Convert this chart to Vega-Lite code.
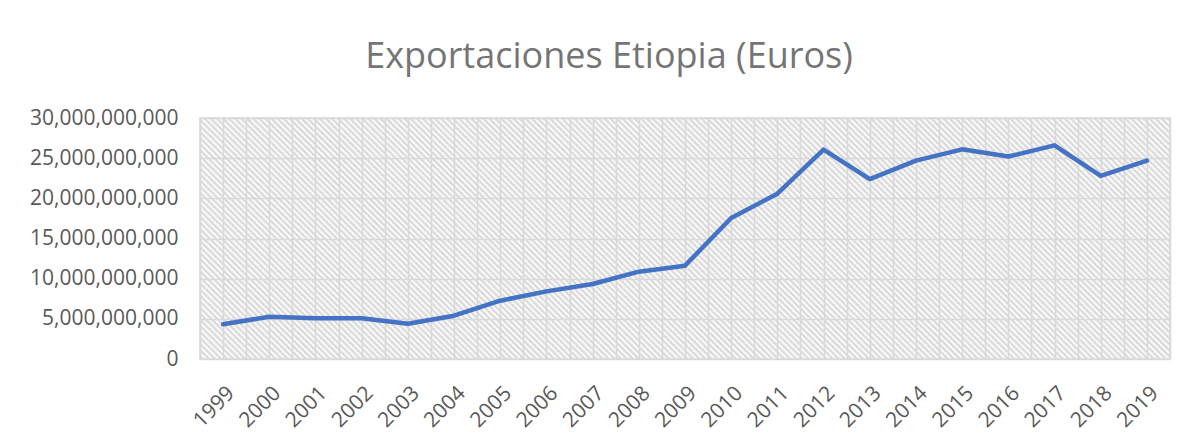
{
  "$schema": "https://vega.github.io/schema/vega-lite/v6.json",
  "width": 970,
  "height": 241,
  "autosize": {"type": "none"},
  "padding": {"left": 200, "top": 118, "right": 14, "bottom": 79},
  "background": "white",
  "title": {
    "text": "Exportaciones Etiopia (Euros)",
    "font": "Open Sans",
    "fontSize": 36,
    "fontWeight": "normal",
    "color": "#757575",
    "anchor": "middle",
    "baseline": "alphabetic",
    "dx": -76,
    "offset": 3
  },
  "config": {
    "view": {
      "stroke": "#d9d9d9",
      "strokeWidth": 1.5,
      "fill": {
        "gradient": "linear",
        "x1": 0, "y1": 1, "x2": 1.176, "y2": 0.7078,
        "stops": [
{"offset":0,"color":"#fff"},{"offset":0.0025,"color":"#d4d4d4"},{"offset":0.005,"color":"#fff"},{"offset":0.0075,"color":"#d4d4d4"},
{"offset":0.01,"color":"#fff"},{"offset":0.0125,"color":"#d4d4d4"},{"offset":0.015,"color":"#fff"},{"offset":0.0175,"color":"#d4d4d4"},
{"offset":0.02,"color":"#fff"},{"offset":0.0225,"color":"#d4d4d4"},{"offset":0.025,"color":"#fff"},{"offset":0.0275,"color":"#d4d4d4"},
{"offset":0.03,"color":"#fff"},{"offset":0.0325,"color":"#d4d4d4"},{"offset":0.035,"color":"#fff"},{"offset":0.0375,"color":"#d4d4d4"},
{"offset":0.04,"color":"#fff"},{"offset":0.0425,"color":"#d4d4d4"},{"offset":0.045,"color":"#fff"},{"offset":0.0475,"color":"#d4d4d4"},
{"offset":0.05,"color":"#fff"},{"offset":0.0525,"color":"#d4d4d4"},{"offset":0.055,"color":"#fff"},{"offset":0.0575,"color":"#d4d4d4"},
{"offset":0.06,"color":"#fff"},{"offset":0.0625,"color":"#d4d4d4"},{"offset":0.065,"color":"#fff"},{"offset":0.0675,"color":"#d4d4d4"},
{"offset":0.07,"color":"#fff"},{"offset":0.0725,"color":"#d4d4d4"},{"offset":0.075,"color":"#fff"},{"offset":0.0775,"color":"#d4d4d4"},
{"offset":0.08,"color":"#fff"},{"offset":0.0825,"color":"#d4d4d4"},{"offset":0.085,"color":"#fff"},{"offset":0.0875,"color":"#d4d4d4"},
{"offset":0.09,"color":"#fff"},{"offset":0.0925,"color":"#d4d4d4"},{"offset":0.095,"color":"#fff"},{"offset":0.0975,"color":"#d4d4d4"},
{"offset":0.1,"color":"#fff"},{"offset":0.1025,"color":"#d4d4d4"},{"offset":0.105,"color":"#fff"},{"offset":0.1075,"color":"#d4d4d4"},
{"offset":0.11,"color":"#fff"},{"offset":0.1125,"color":"#d4d4d4"},{"offset":0.115,"color":"#fff"},{"offset":0.1175,"color":"#d4d4d4"},
{"offset":0.12,"color":"#fff"},{"offset":0.1225,"color":"#d4d4d4"},{"offset":0.125,"color":"#fff"},{"offset":0.1275,"color":"#d4d4d4"},
{"offset":0.13,"color":"#fff"},{"offset":0.1325,"color":"#d4d4d4"},{"offset":0.135,"color":"#fff"},{"offset":0.1375,"color":"#d4d4d4"},
{"offset":0.14,"color":"#fff"},{"offset":0.1425,"color":"#d4d4d4"},{"offset":0.145,"color":"#fff"},{"offset":0.1475,"color":"#d4d4d4"},
{"offset":0.15,"color":"#fff"},{"offset":0.1525,"color":"#d4d4d4"},{"offset":0.155,"color":"#fff"},{"offset":0.1575,"color":"#d4d4d4"},
{"offset":0.16,"color":"#fff"},{"offset":0.1625,"color":"#d4d4d4"},{"offset":0.165,"color":"#fff"},{"offset":0.1675,"color":"#d4d4d4"},
{"offset":0.17,"color":"#fff"},{"offset":0.1725,"color":"#d4d4d4"},{"offset":0.175,"color":"#fff"},{"offset":0.1775,"color":"#d4d4d4"},
{"offset":0.18,"color":"#fff"},{"offset":0.1825,"color":"#d4d4d4"},{"offset":0.185,"color":"#fff"},{"offset":0.1875,"color":"#d4d4d4"},
{"offset":0.19,"color":"#fff"},{"offset":0.1925,"color":"#d4d4d4"},{"offset":0.195,"color":"#fff"},{"offset":0.1975,"color":"#d4d4d4"},
{"offset":0.2,"color":"#fff"},{"offset":0.2025,"color":"#d4d4d4"},{"offset":0.205,"color":"#fff"},{"offset":0.2075,"color":"#d4d4d4"},
{"offset":0.21,"color":"#fff"},{"offset":0.2125,"color":"#d4d4d4"},{"offset":0.215,"color":"#fff"},{"offset":0.2175,"color":"#d4d4d4"},
{"offset":0.22,"color":"#fff"},{"offset":0.2225,"color":"#d4d4d4"},{"offset":0.225,"color":"#fff"},{"offset":0.2275,"color":"#d4d4d4"},
{"offset":0.23,"color":"#fff"},{"offset":0.2325,"color":"#d4d4d4"},{"offset":0.235,"color":"#fff"},{"offset":0.2375,"color":"#d4d4d4"},
{"offset":0.24,"color":"#fff"},{"offset":0.2425,"color":"#d4d4d4"},{"offset":0.245,"color":"#fff"},{"offset":0.2475,"color":"#d4d4d4"},
{"offset":0.25,"color":"#fff"},{"offset":0.2525,"color":"#d4d4d4"},{"offset":0.255,"color":"#fff"},{"offset":0.2575,"color":"#d4d4d4"},
{"offset":0.26,"color":"#fff"},{"offset":0.2625,"color":"#d4d4d4"},{"offset":0.265,"color":"#fff"},{"offset":0.2675,"color":"#d4d4d4"},
{"offset":0.27,"color":"#fff"},{"offset":0.2725,"color":"#d4d4d4"},{"offset":0.275,"color":"#fff"},{"offset":0.2775,"color":"#d4d4d4"},
{"offset":0.28,"color":"#fff"},{"offset":0.2825,"color":"#d4d4d4"},{"offset":0.285,"color":"#fff"},{"offset":0.2875,"color":"#d4d4d4"},
{"offset":0.29,"color":"#fff"},{"offset":0.2925,"color":"#d4d4d4"},{"offset":0.295,"color":"#fff"},{"offset":0.2975,"color":"#d4d4d4"},
{"offset":0.3,"color":"#fff"},{"offset":0.3025,"color":"#d4d4d4"},{"offset":0.305,"color":"#fff"},{"offset":0.3075,"color":"#d4d4d4"},
{"offset":0.31,"color":"#fff"},{"offset":0.3125,"color":"#d4d4d4"},{"offset":0.315,"color":"#fff"},{"offset":0.3175,"color":"#d4d4d4"},
{"offset":0.32,"color":"#fff"},{"offset":0.3225,"color":"#d4d4d4"},{"offset":0.325,"color":"#fff"},{"offset":0.3275,"color":"#d4d4d4"},
{"offset":0.33,"color":"#fff"},{"offset":0.3325,"color":"#d4d4d4"},{"offset":0.335,"color":"#fff"},{"offset":0.3375,"color":"#d4d4d4"},
{"offset":0.34,"color":"#fff"},{"offset":0.3425,"color":"#d4d4d4"},{"offset":0.345,"color":"#fff"},{"offset":0.3475,"color":"#d4d4d4"},
{"offset":0.35,"color":"#fff"},{"offset":0.3525,"color":"#d4d4d4"},{"offset":0.355,"color":"#fff"},{"offset":0.3575,"color":"#d4d4d4"},
{"offset":0.36,"color":"#fff"},{"offset":0.3625,"color":"#d4d4d4"},{"offset":0.365,"color":"#fff"},{"offset":0.3675,"color":"#d4d4d4"},
{"offset":0.37,"color":"#fff"},{"offset":0.3725,"color":"#d4d4d4"},{"offset":0.375,"color":"#fff"},{"offset":0.3775,"color":"#d4d4d4"},
{"offset":0.38,"color":"#fff"},{"offset":0.3825,"color":"#d4d4d4"},{"offset":0.385,"color":"#fff"},{"offset":0.3875,"color":"#d4d4d4"},
{"offset":0.39,"color":"#fff"},{"offset":0.3925,"color":"#d4d4d4"},{"offset":0.395,"color":"#fff"},{"offset":0.3975,"color":"#d4d4d4"},
{"offset":0.4,"color":"#fff"},{"offset":0.4025,"color":"#d4d4d4"},{"offset":0.405,"color":"#fff"},{"offset":0.4075,"color":"#d4d4d4"},
{"offset":0.41,"color":"#fff"},{"offset":0.4125,"color":"#d4d4d4"},{"offset":0.415,"color":"#fff"},{"offset":0.4175,"color":"#d4d4d4"},
{"offset":0.42,"color":"#fff"},{"offset":0.4225,"color":"#d4d4d4"},{"offset":0.425,"color":"#fff"},{"offset":0.4275,"color":"#d4d4d4"},
{"offset":0.43,"color":"#fff"},{"offset":0.4325,"color":"#d4d4d4"},{"offset":0.435,"color":"#fff"},{"offset":0.4375,"color":"#d4d4d4"},
{"offset":0.44,"color":"#fff"},{"offset":0.4425,"color":"#d4d4d4"},{"offset":0.445,"color":"#fff"},{"offset":0.4475,"color":"#d4d4d4"},
{"offset":0.45,"color":"#fff"},{"offset":0.4525,"color":"#d4d4d4"},{"offset":0.455,"color":"#fff"},{"offset":0.4575,"color":"#d4d4d4"},
{"offset":0.46,"color":"#fff"},{"offset":0.4625,"color":"#d4d4d4"},{"offset":0.465,"color":"#fff"},{"offset":0.4675,"color":"#d4d4d4"},
{"offset":0.47,"color":"#fff"},{"offset":0.4725,"color":"#d4d4d4"},{"offset":0.475,"color":"#fff"},{"offset":0.4775,"color":"#d4d4d4"},
{"offset":0.48,"color":"#fff"},{"offset":0.4825,"color":"#d4d4d4"},{"offset":0.485,"color":"#fff"},{"offset":0.4875,"color":"#d4d4d4"},
{"offset":0.49,"color":"#fff"},{"offset":0.4925,"color":"#d4d4d4"},{"offset":0.495,"color":"#fff"},{"offset":0.4975,"color":"#d4d4d4"},
{"offset":0.5,"color":"#fff"},{"offset":0.5025,"color":"#d4d4d4"},{"offset":0.505,"color":"#fff"},{"offset":0.5075,"color":"#d4d4d4"},
{"offset":0.51,"color":"#fff"},{"offset":0.5125,"color":"#d4d4d4"},{"offset":0.515,"color":"#fff"},{"offset":0.5175,"color":"#d4d4d4"},
{"offset":0.52,"color":"#fff"},{"offset":0.5225,"color":"#d4d4d4"},{"offset":0.525,"color":"#fff"},{"offset":0.5275,"color":"#d4d4d4"},
{"offset":0.53,"color":"#fff"},{"offset":0.5325,"color":"#d4d4d4"},{"offset":0.535,"color":"#fff"},{"offset":0.5375,"color":"#d4d4d4"},
{"offset":0.54,"color":"#fff"},{"offset":0.5425,"color":"#d4d4d4"},{"offset":0.545,"color":"#fff"},{"offset":0.5475,"color":"#d4d4d4"},
{"offset":0.55,"color":"#fff"},{"offset":0.5525,"color":"#d4d4d4"},{"offset":0.555,"color":"#fff"},{"offset":0.5575,"color":"#d4d4d4"},
{"offset":0.56,"color":"#fff"},{"offset":0.5625,"color":"#d4d4d4"},{"offset":0.565,"color":"#fff"},{"offset":0.5675,"color":"#d4d4d4"},
{"offset":0.57,"color":"#fff"},{"offset":0.5725,"color":"#d4d4d4"},{"offset":0.575,"color":"#fff"},{"offset":0.5775,"color":"#d4d4d4"},
{"offset":0.58,"color":"#fff"},{"offset":0.5825,"color":"#d4d4d4"},{"offset":0.585,"color":"#fff"},{"offset":0.5875,"color":"#d4d4d4"},
{"offset":0.59,"color":"#fff"},{"offset":0.5925,"color":"#d4d4d4"},{"offset":0.595,"color":"#fff"},{"offset":0.5975,"color":"#d4d4d4"},
{"offset":0.6,"color":"#fff"},{"offset":0.6025,"color":"#d4d4d4"},{"offset":0.605,"color":"#fff"},{"offset":0.6075,"color":"#d4d4d4"},
{"offset":0.61,"color":"#fff"},{"offset":0.6125,"color":"#d4d4d4"},{"offset":0.615,"color":"#fff"},{"offset":0.6175,"color":"#d4d4d4"},
{"offset":0.62,"color":"#fff"},{"offset":0.6225,"color":"#d4d4d4"},{"offset":0.625,"color":"#fff"},{"offset":0.6275,"color":"#d4d4d4"},
{"offset":0.63,"color":"#fff"},{"offset":0.6325,"color":"#d4d4d4"},{"offset":0.635,"color":"#fff"},{"offset":0.6375,"color":"#d4d4d4"},
{"offset":0.64,"color":"#fff"},{"offset":0.6425,"color":"#d4d4d4"},{"offset":0.645,"color":"#fff"},{"offset":0.6475,"color":"#d4d4d4"},
{"offset":0.65,"color":"#fff"},{"offset":0.6525,"color":"#d4d4d4"},{"offset":0.655,"color":"#fff"},{"offset":0.6575,"color":"#d4d4d4"},
{"offset":0.66,"color":"#fff"},{"offset":0.6625,"color":"#d4d4d4"},{"offset":0.665,"color":"#fff"},{"offset":0.6675,"color":"#d4d4d4"},
{"offset":0.67,"color":"#fff"},{"offset":0.6725,"color":"#d4d4d4"},{"offset":0.675,"color":"#fff"},{"offset":0.6775,"color":"#d4d4d4"},
{"offset":0.68,"color":"#fff"},{"offset":0.6825,"color":"#d4d4d4"},{"offset":0.685,"color":"#fff"},{"offset":0.6875,"color":"#d4d4d4"},
{"offset":0.69,"color":"#fff"},{"offset":0.6925,"color":"#d4d4d4"},{"offset":0.695,"color":"#fff"},{"offset":0.6975,"color":"#d4d4d4"},
{"offset":0.7,"color":"#fff"},{"offset":0.7025,"color":"#d4d4d4"},{"offset":0.705,"color":"#fff"},{"offset":0.7075,"color":"#d4d4d4"},
{"offset":0.71,"color":"#fff"},{"offset":0.7125,"color":"#d4d4d4"},{"offset":0.715,"color":"#fff"},{"offset":0.7175,"color":"#d4d4d4"},
{"offset":0.72,"color":"#fff"},{"offset":0.7225,"color":"#d4d4d4"},{"offset":0.725,"color":"#fff"},{"offset":0.7275,"color":"#d4d4d4"},
{"offset":0.73,"color":"#fff"},{"offset":0.7325,"color":"#d4d4d4"},{"offset":0.735,"color":"#fff"},{"offset":0.7375,"color":"#d4d4d4"},
{"offset":0.74,"color":"#fff"},{"offset":0.7425,"color":"#d4d4d4"},{"offset":0.745,"color":"#fff"},{"offset":0.7475,"color":"#d4d4d4"},
{"offset":0.75,"color":"#fff"},{"offset":0.7525,"color":"#d4d4d4"},{"offset":0.755,"color":"#fff"},{"offset":0.7575,"color":"#d4d4d4"},
{"offset":0.76,"color":"#fff"},{"offset":0.7625,"color":"#d4d4d4"},{"offset":0.765,"color":"#fff"},{"offset":0.7675,"color":"#d4d4d4"},
{"offset":0.77,"color":"#fff"},{"offset":0.7725,"color":"#d4d4d4"},{"offset":0.775,"color":"#fff"},{"offset":0.7775,"color":"#d4d4d4"},
{"offset":0.78,"color":"#fff"},{"offset":0.7825,"color":"#d4d4d4"},{"offset":0.785,"color":"#fff"},{"offset":0.7875,"color":"#d4d4d4"},
{"offset":0.79,"color":"#fff"},{"offset":0.7925,"color":"#d4d4d4"},{"offset":0.795,"color":"#fff"},{"offset":0.7975,"color":"#d4d4d4"},
{"offset":0.8,"color":"#fff"},{"offset":0.8025,"color":"#d4d4d4"},{"offset":0.805,"color":"#fff"},{"offset":0.8075,"color":"#d4d4d4"},
{"offset":0.81,"color":"#fff"},{"offset":0.8125,"color":"#d4d4d4"},{"offset":0.815,"color":"#fff"},{"offset":0.8175,"color":"#d4d4d4"},
{"offset":0.82,"color":"#fff"},{"offset":0.8225,"color":"#d4d4d4"},{"offset":0.825,"color":"#fff"},{"offset":0.8275,"color":"#d4d4d4"},
{"offset":0.83,"color":"#fff"},{"offset":0.8325,"color":"#d4d4d4"},{"offset":0.835,"color":"#fff"},{"offset":0.8375,"color":"#d4d4d4"},
{"offset":0.84,"color":"#fff"},{"offset":0.8425,"color":"#d4d4d4"},{"offset":0.845,"color":"#fff"},{"offset":0.8475,"color":"#d4d4d4"},
{"offset":0.85,"color":"#fff"},{"offset":0.8525,"color":"#d4d4d4"},{"offset":0.855,"color":"#fff"},{"offset":0.8575,"color":"#d4d4d4"},
{"offset":0.86,"color":"#fff"},{"offset":0.8625,"color":"#d4d4d4"},{"offset":0.865,"color":"#fff"},{"offset":0.8675,"color":"#d4d4d4"},
{"offset":0.87,"color":"#fff"},{"offset":0.8725,"color":"#d4d4d4"},{"offset":0.875,"color":"#fff"},{"offset":0.8775,"color":"#d4d4d4"},
{"offset":0.88,"color":"#fff"},{"offset":0.8825,"color":"#d4d4d4"},{"offset":0.885,"color":"#fff"},{"offset":0.8875,"color":"#d4d4d4"},
{"offset":0.89,"color":"#fff"},{"offset":0.8925,"color":"#d4d4d4"},{"offset":0.895,"color":"#fff"},{"offset":0.8975,"color":"#d4d4d4"},
{"offset":0.9,"color":"#fff"},{"offset":0.9025,"color":"#d4d4d4"},{"offset":0.905,"color":"#fff"},{"offset":0.9075,"color":"#d4d4d4"},
{"offset":0.91,"color":"#fff"},{"offset":0.9125,"color":"#d4d4d4"},{"offset":0.915,"color":"#fff"},{"offset":0.9175,"color":"#d4d4d4"},
{"offset":0.92,"color":"#fff"},{"offset":0.9225,"color":"#d4d4d4"},{"offset":0.925,"color":"#fff"},{"offset":0.9275,"color":"#d4d4d4"},
{"offset":0.93,"color":"#fff"},{"offset":0.9325,"color":"#d4d4d4"},{"offset":0.935,"color":"#fff"},{"offset":0.9375,"color":"#d4d4d4"},
{"offset":0.94,"color":"#fff"},{"offset":0.9425,"color":"#d4d4d4"},{"offset":0.945,"color":"#fff"},{"offset":0.9475,"color":"#d4d4d4"},
{"offset":0.95,"color":"#fff"},{"offset":0.9525,"color":"#d4d4d4"},{"offset":0.955,"color":"#fff"},{"offset":0.9575,"color":"#d4d4d4"},
{"offset":0.96,"color":"#fff"},{"offset":0.9625,"color":"#d4d4d4"},{"offset":0.965,"color":"#fff"},{"offset":0.9675,"color":"#d4d4d4"},
{"offset":0.97,"color":"#fff"},{"offset":0.9725,"color":"#d4d4d4"},{"offset":0.975,"color":"#fff"},{"offset":0.9775,"color":"#d4d4d4"},
{"offset":0.98,"color":"#fff"},{"offset":0.9825,"color":"#d4d4d4"},{"offset":0.985,"color":"#fff"},{"offset":0.9875,"color":"#d4d4d4"},
{"offset":0.99,"color":"#fff"},{"offset":0.9925,"color":"#d4d4d4"},{"offset":0.995,"color":"#fff"},{"offset":0.9975,"color":"#d4d4d4"},
{"offset":1,"color":"#fff"}
        ]
      }
    },
    "axis": {
      "labelFont": "Open Sans",
      "labelFontSize": 21,
      "labelColor": "#595959",
      "gridColor": "#d9d9d9",
      "gridWidth": 1.5,
      "gridOpacity": 1,
      "domain": false,
      "ticks": false,
      "title": null
    }
  },
  "data": {
    "values": [
      {"year": 1999, "value": 4320000000},
      {"year": 2000, "value": 5270000000},
      {"year": 2001, "value": 5080000000},
      {"year": 2002, "value": 5070000000},
      {"year": 2003, "value": 4390000000},
      {"year": 2004, "value": 5390000000},
      {"year": 2005, "value": 7260000000},
      {"year": 2006, "value": 8420000000},
      {"year": 2007, "value": 9340000000},
      {"year": 2008, "value": 10870000000},
      {"year": 2009, "value": 11620000000},
      {"year": 2010, "value": 17550000000},
      {"year": 2011, "value": 20580000000},
      {"year": 2012, "value": 26060000000},
      {"year": 2013, "value": 22400000000},
      {"year": 2014, "value": 24700000000},
      {"year": 2015, "value": 26100000000},
      {"year": 2016, "value": 25200000000},
      {"year": 2017, "value": 26600000000},
      {"year": 2018, "value": 22800000000},
      {"year": 2019, "value": 24700000000}
    ]
  },
  "mark": {"type": "line", "color": "#4472C4", "strokeWidth": 4.5, "strokeJoin": "round", "strokeCap": "round"},
  "encoding": {
    "x": {
      "field": "year",
      "type": "quantitative",
      "scale": {"domain": [1998.5, 2019.5], "nice": false, "zero": false},
      "axis": {
        "values": [1998.5, 1999, 1999.5, 2000, 2000.5, 2001, 2001.5, 2002, 2002.5, 2003, 2003.5, 2004, 2004.5, 2005, 2005.5, 2006, 2006.5, 2007, 2007.5, 2008, 2008.5, 2009, 2009.5, 2010, 2010.5, 2011, 2011.5, 2012, 2012.5, 2013, 2013.5, 2014, 2014.5, 2015, 2015.5, 2016, 2016.5, 2017, 2017.5, 2018, 2018.5, 2019, 2019.5],
        "labelExpr": "datum.value % 1 == 0 ? '' + datum.value : ''",
        "labelAngle": -45,
        "labelPadding": 23,
        "labelOverlap": false,
        "labelFlush": false
      }
    },
    "y": {
      "field": "value",
      "type": "quantitative",
      "scale": {"domain": [0, 30000000000], "nice": false},
      "axis": {
        "values": [0, 5000000000, 10000000000, 15000000000, 20000000000, 25000000000, 30000000000],
        "format": ",d",
        "labelPadding": 22
      }
    }
  }
}
